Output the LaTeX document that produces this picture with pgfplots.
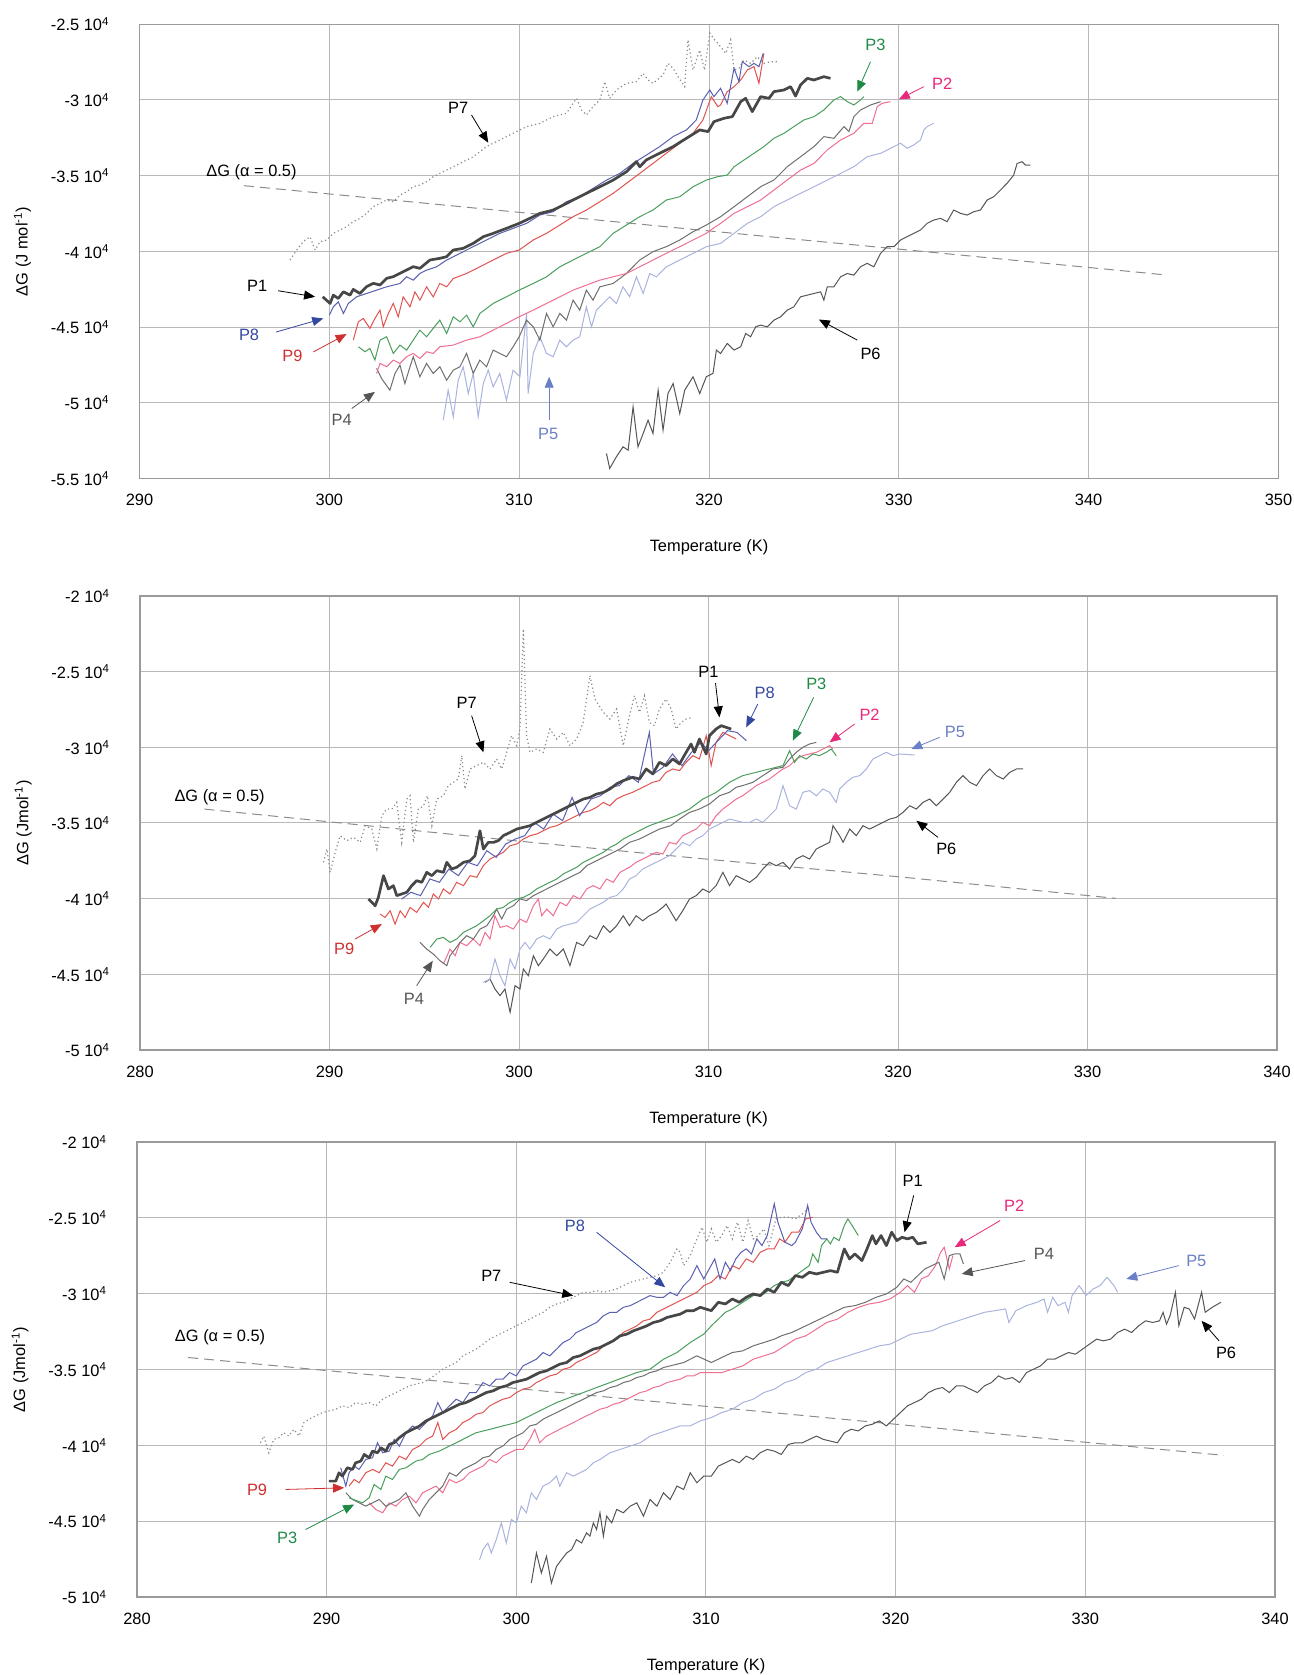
\documentclass[border=0pt]{standalone}
\usepackage{fontspec}
\setmainfont{Liberation Sans}
\usepackage{pgfplots}
\pgfplotsset{compat=1.18}
\usetikzlibrary{arrows.meta}

\definecolor{gridc}{HTML}{B8B8B8}
\definecolor{framec}{HTML}{9A9A9A}
\definecolor{p1c}{HTML}{474747}
\definecolor{p8c}{HTML}{5A5FB0}
\definecolor{p9c}{HTML}{E0534F}
\definecolor{p3c}{HTML}{4A9D5C}
\definecolor{p2c}{HTML}{EE6F8F}
\definecolor{p4c}{HTML}{6E6E6E}
\definecolor{p5c}{HTML}{A9B3DD}
\definecolor{p6c}{HTML}{555555}
\definecolor{p7c}{HTML}{8A8A8A}
\definecolor{dashc}{HTML}{8C8C8C}
\definecolor{lblue}{HTML}{3348A0}
\definecolor{lred}{HTML}{CF2F2F}
\definecolor{lgreen}{HTML}{1F8A48}
\definecolor{lpink}{HTML}{E8287A}
\definecolor{lp5}{HTML}{6A7FC6}
\definecolor{lgray}{HTML}{555555}

\newcommand{\fs}{\fontsize{8.2}{9.8}\selectfont}

\pgfplotsset{
  panel/.style={
    scale only axis, anchor=south west, clip=false,
    grid=major, major grid style={draw=gridc, line width=0.5pt},
    axis line style={draw=framec, line width=0.7pt},
    major tick length=0pt,
    tick label style={font=\fs, text=black},
    label style={font=\fs},
    /pgf/number format/assume math mode=true,
    xticklabel style={yshift=-4.4pt},
    yticklabel style={xshift=-11.5pt},
    scaled y ticks=false,
    xlabel={Temperature (K)},
    xlabel style={at={(axis description cs:0.5,-0.152)}, anchor=center},
    ylabel style={at={(axis description cs:-0.1027,0.5)}, anchor=center},
  },
  s1/.style={draw=p1c, line width=1.35pt, line join=round},
  s8/.style={draw=p8c, line width=0.5pt},
  s9/.style={draw=p9c, line width=0.5pt},
  s3/.style={draw=p3c, line width=0.5pt},
  s2/.style={draw=p2c, line width=0.5pt},
  s4/.style={draw=p4c, line width=0.5pt},
  s5/.style={draw=p5c, line width=0.5pt},
  s6/.style={draw=p6c, line width=0.5pt},
  s7/.style={draw=p7c, line width=0.6pt, dash pattern=on 0.6pt off 1.4pt},
  sd/.style={draw=dashc, line width=0.5pt, dash pattern=on 5pt off 3pt},
}
\tikzset{
  ann/.style={-{Triangle[length=5.5pt,width=4.5pt]}, line width=0.4pt},
  lab/.style={font=\fs, inner sep=1pt},
}

\begin{document}
\begin{tikzpicture}
\path[use as bounding box] (0,0) rectangle (647pt,837.5pt);

% ---------------- panel 1 ----------------
\begin{axis}[panel, at={(69.75pt,598.25pt)}, width=569.5pt, height=227.1pt,
  xmin=290, xmax=350, ymin=-55000, ymax=-25000,
  xtick={290,300,...,350},
  ytick={-55000,-50000,-45000,-40000,-35000,-30000,-25000},
  yticklabels={-5.5 10\textsuperscript{4},-5 10\textsuperscript{4},-4.5 10\textsuperscript{4},-4 10\textsuperscript{4},-3.5 10\textsuperscript{4},-3 10\textsuperscript{4},-2.5 10\textsuperscript{4}},
  ylabel={ΔG (J mol\textsuperscript{-1})}]
\addplot[sd] coordinates {(295.5,-35660) (310,-37420) (320,-38650) (330,-39850) (344.1,-41560)};
\addplot[s7] coordinates {(297.93,-40570) (298.28,-39910) (298.63,-39360) (298.98,-39030) (299.25,-39910) (299.51,-39360) (299.86,-39250) (300.21,-38810) (300.56,-38590) (300.91,-38370) (301.26,-38040) (301.61,-37820) (301.96,-37490) (302.32,-37050) (302.67,-36830) (303.02,-36610) (303.37,-36720) (303.72,-36280) (304.07,-36060) (304.42,-35730) (304.77,-35620) (305.12,-35400) (305.47,-35070) (305.82,-34850) (306.18,-34630) (306.88,-34190) (307.58,-33750) (308.28,-33080) (308.98,-32640) (309.68,-32200) (310.39,-31760) (311.09,-31540) (311.79,-31100) (312.49,-30880) (313.02,-29890) (313.28,-30660) (313.54,-30990) (313.89,-30440) (314.25,-30000) (314.51,-28790) (314.77,-29890) (315.12,-29340) (315.65,-28900) (316.18,-28790) (316.53,-28240) (316.79,-28680) (317.05,-28900) (317.58,-28350) (317.84,-27580) (318.11,-27910) (318.37,-28460) (318.72,-29120) (318.89,-26030) (319.16,-28020) (319.51,-26700) (319.77,-28020) (320.04,-25590) (320.30,-26030) (320.61,-26480) (320.88,-26920) (321.14,-26030) (321.32,-28020) (321.58,-27910) (321.84,-27360) (322.19,-27580) (322.54,-27140) (322.89,-27580) (323.25,-27470) (323.60,-27470)};
\addplot[s6] coordinates {(314.60,-53350) (314.77,-54340) (315.12,-53570) (315.47,-52910) (315.74,-53130) (316.00,-50270) (316.26,-52910) (316.53,-52030) (316.79,-51150) (317.05,-52030) (317.32,-49170) (317.58,-51810) (317.84,-49390) (318.11,-48730) (318.46,-50710) (318.72,-49170) (319.16,-48280) (319.51,-49390) (319.86,-48280) (320.21,-48060) (320.39,-46520) (320.61,-46740) (320.96,-46080) (321.32,-46520) (321.67,-46300) (321.93,-45420) (322.19,-45640) (322.46,-44980) (322.72,-44870) (323.07,-44980) (323.42,-44540) (323.77,-44320) (324.12,-43880) (324.47,-43660) (324.82,-43000) (325.18,-42890) (325.53,-42780) (325.88,-42670) (326.05,-43220) (326.23,-42340) (326.58,-42340) (326.93,-41680) (327.28,-41460) (327.63,-41570) (327.98,-41020) (328.33,-40790) (328.68,-41020) (329.04,-40130) (329.39,-39690) (329.74,-39690) (330.09,-39250) (330.44,-39030) (330.79,-38810) (331.14,-38590) (331.49,-38150) (331.84,-37930) (332.19,-37820) (332.54,-38040) (332.89,-37270) (333.25,-37490) (333.60,-37600) (333.95,-37380) (334.30,-37270) (334.65,-36610) (335.00,-36390) (335.35,-35950) (335.70,-35510) (336.05,-34960) (336.23,-34190) (336.49,-34080) (336.67,-34300) (336.93,-34300)};
\addplot[s5] coordinates {(306.00,-51150) (306.26,-49170) (306.53,-50930) (306.79,-48510) (307.05,-47620) (307.32,-49390) (307.58,-48060) (307.84,-50930) (308.11,-48730) (308.37,-47840) (308.63,-48950) (308.98,-48060) (309.33,-49830) (309.68,-47840) (310.04,-48280) (310.39,-44100) (310.47,-49390) (310.74,-46740) (311.09,-45640) (311.44,-46740) (311.79,-46960) (312.14,-45860) (312.49,-46300) (312.84,-45860) (313.19,-45640) (313.54,-43660) (313.81,-44980) (314.07,-43880) (314.42,-43440) (314.77,-43000) (315.12,-43440) (315.47,-42340) (315.82,-43000) (316.18,-41680) (316.53,-42780) (316.88,-41460) (317.23,-41680) (317.75,-41020) (318.46,-40570) (319.16,-40130) (319.86,-39690) (320.61,-39470) (321.32,-38810) (322.02,-38150) (322.72,-37710) (323.42,-37050) (324.12,-36610) (324.82,-36170) (325.53,-35730) (326.23,-35290) (326.93,-34850) (327.63,-34410) (328.33,-33750) (329.04,-33520) (329.74,-33080) (330.09,-32860) (330.44,-33190) (330.79,-32970) (331.14,-32640) (331.32,-31980) (331.49,-31760) (331.84,-31540)};
\addplot[s4] coordinates {(302.49,-47730) (302.75,-48390) (303.19,-49170) (303.46,-48060) (303.72,-47510) (303.98,-48730) (304.25,-47620) (304.42,-46960) (304.77,-48280) (305.12,-47400) (305.47,-48060) (305.82,-47620) (306.18,-48510) (306.53,-47840) (306.88,-47620) (307.23,-46740) (307.58,-48060) (307.93,-47180) (308.28,-47620) (308.63,-46520) (308.98,-46740) (309.33,-46960) (309.68,-46300) (310.00,-45640) (310.39,-44540) (310.74,-44980) (311.09,-45860) (311.44,-44100) (311.79,-44980) (312.14,-44100) (312.49,-44540) (312.84,-43220) (313.19,-43880) (313.54,-42560) (313.89,-43220) (314.25,-42340) (314.95,-42120) (315.65,-41460) (316.35,-40570) (317.05,-40020) (317.75,-39690) (318.46,-39250) (319.16,-38700) (319.86,-38260) (320.61,-37710) (321.32,-37050) (322.02,-36390) (322.72,-35730) (323.42,-35290) (324.12,-34410) (324.82,-33750) (325.53,-33080) (326.05,-32420) (326.58,-32530) (327.11,-31760) (327.37,-32090) (327.63,-31100) (327.98,-30660) (328.51,-30330) (329.04,-30110)};
\addplot[s2] coordinates {(302.49,-48060) (302.67,-47400) (303.02,-47620) (303.37,-47180) (303.72,-47400) (304.07,-46960) (304.42,-46740) (304.77,-47070) (305.12,-46630) (305.47,-46740) (305.82,-46300) (306.53,-46190) (307.23,-45860) (307.93,-45640) (308.63,-45200) (309.33,-44760) (310.00,-44320) (310.74,-43880) (311.44,-43440) (312.14,-43000) (312.84,-42560) (313.54,-42230) (314.25,-41900) (314.95,-41680) (315.65,-41460) (316.35,-41020) (317.05,-40570) (317.75,-40130) (318.46,-39690) (319.16,-39250) (319.86,-38810) (320.09,-38590) (320.61,-38150) (321.32,-37490) (322.02,-37050) (322.72,-36610) (323.42,-35950) (324.12,-35290) (324.82,-34630) (325.53,-34190) (326.23,-33300) (326.93,-32640) (327.63,-32200) (328.16,-31540) (328.60,-31540) (328.86,-30440) (329.12,-30220) (329.56,-30110)};
\addplot[s3] coordinates {(301.53,-46300) (301.88,-46630) (302.14,-46410) (302.40,-47180) (302.67,-45860) (303.02,-45640) (303.37,-46740) (303.72,-46190) (304.07,-46520) (304.42,-45860) (304.77,-45200) (305.12,-45640) (305.47,-45090) (305.82,-44540) (306.18,-45420) (306.53,-44320) (306.88,-44650) (307.23,-44210) (307.58,-44980) (307.93,-44100) (308.63,-43440) (309.33,-43000) (310.00,-42560) (310.74,-42120) (311.44,-41680) (312.14,-41020) (312.84,-40570) (313.54,-40130) (314.25,-39690) (314.95,-38810) (315.65,-38260) (316.35,-37710) (317.05,-37270) (317.75,-36610) (318.46,-36390) (319.16,-35730) (319.86,-35290) (320.44,-35070) (320.96,-34960) (321.32,-34410) (321.84,-33970) (322.37,-33520) (322.89,-33080) (323.42,-32530) (323.95,-32200) (324.47,-31760) (325.00,-31320) (325.53,-31100) (326.05,-30660) (326.58,-30000) (326.93,-29780) (327.28,-30110) (327.63,-30330) (327.98,-30000) (328.16,-29780)};
\addplot[s9] coordinates {(301.26,-45860) (301.53,-44650) (301.79,-44430) (302.14,-45090) (302.40,-44430) (302.67,-43880) (302.84,-44980) (303.11,-44100) (303.37,-43440) (303.63,-44320) (303.89,-43000) (304.25,-43660) (304.51,-42670) (304.77,-43220) (305.12,-42340) (305.47,-43000) (305.82,-42120) (306.18,-42340) (306.53,-41790) (307.23,-41460) (307.93,-41020) (308.63,-40570) (309.33,-40130) (310.00,-39910) (310.74,-39250) (311.44,-38810) (312.14,-38260) (312.84,-37710) (313.54,-37270) (314.25,-36720) (314.95,-36170) (315.65,-35510) (316.35,-34850) (317.05,-34190) (317.75,-33520) (318.46,-32860) (319.16,-32200) (319.68,-31320) (320.12,-29780) (320.47,-30440) (320.61,-30330) (320.96,-29450) (321.32,-29120) (321.67,-28680) (322.02,-28020) (322.37,-27800) (322.63,-28900) (322.89,-26920)};
\addplot[s8] coordinates {(300.00,-44210) (300.21,-43660) (300.47,-43330) (300.74,-44100) (301.00,-43440) (301.44,-43000) (301.96,-42780) (302.49,-42560) (303.02,-42340) (303.72,-42120) (304.07,-41680) (304.42,-41900) (304.77,-41460) (305.12,-41240) (305.65,-41020) (306.18,-40570) (306.88,-40130) (307.58,-39690) (308.28,-39250) (308.98,-38810) (309.68,-38480) (310.39,-38150) (311.09,-37600) (311.79,-37380) (312.49,-36720) (313.19,-36390) (313.89,-35840) (314.60,-35290) (315.30,-34850) (316.00,-34190) (316.70,-33640) (317.40,-33080) (318.11,-32420) (318.81,-31980) (319.33,-31320) (319.68,-30000) (320.04,-29340) (320.26,-29780) (320.61,-29230) (320.96,-30220) (321.32,-27910) (321.58,-28790) (321.75,-27470) (322.11,-27800) (322.37,-27580) (322.63,-27800) (322.86,-26920)};
\addplot[s1] coordinates {(299.65,-43000) (300.04,-43440) (300.21,-42890) (300.47,-43110) (300.74,-42670) (301.09,-42890) (301.26,-42510) (301.61,-42780) (301.96,-42330) (302.32,-42110) (302.67,-42220) (303.02,-41780) (303.37,-41670) (303.72,-41450) (304.07,-41230) (304.42,-41010) (304.77,-41120) (305.30,-40570) (305.82,-40460) (306.18,-40350) (306.53,-39910) (307.05,-39800) (307.58,-39470) (308.11,-39030) (308.63,-38810) (309.33,-38480) (310.00,-38150) (310.56,-37820) (311.09,-37490) (311.79,-37270) (312.32,-36940) (312.84,-36610) (313.54,-36170) (314.25,-35730) (314.95,-35290) (315.65,-34740) (316.18,-34070) (316.35,-34410) (316.70,-33960) (317.40,-33520) (318.11,-33080) (318.81,-32530) (319.51,-31980) (319.95,-32090) (320.26,-31430) (320.79,-31210) (321.23,-31100) (321.67,-30110) (321.93,-29890) (322.28,-30770) (322.72,-29780) (323.16,-29890) (323.42,-29450) (323.95,-29340) (324.30,-29120) (324.56,-29740) (324.82,-29010) (325.18,-28570) (325.53,-28680) (326.05,-28460) (326.40,-28570)};
\node[lab] at (axis cs:295.9,-34790) {ΔG (α = 0.5)};
\draw[ann, black] (axis cs:307.49,-30990) -- (axis cs:308.37,-32820);
\node[lab] at (axis cs:306.79,-30550) {P7};
\draw[ann, black] (axis cs:297.3,-42600) -- (axis cs:299.25,-43000);
\node[lab] at (axis cs:296.2,-42270) {P1};
\draw[ann, lblue] (axis cs:297.19,-45330) -- (axis cs:299.68,-44430);
\node[lab, text=lblue] at (axis cs:295.77,-45540) {P8};
\draw[ann, lred] (axis cs:299.16,-46640) -- (axis cs:300.91,-45460);
\node[lab, text=lred] at (axis cs:298.06,-46870) {P9};
\draw[ann, lgray] (axis cs:301.18,-50380) -- (axis cs:302.40,-49280);
\node[lab, text=lgray] at (axis cs:300.65,-51150) {P4};
\draw[ann, lp5] (axis cs:311.58,-51150) -- (axis cs:311.58,-48280);
\node[lab, text=lp5] at (axis cs:311.53,-52030) {P5};
\draw[ann, lgreen] (axis cs:328.51,-27470) -- (axis cs:327.81,-29450);
\node[lab, text=lgreen] at (axis cs:328.77,-26370) {P3};
\draw[ann, lpink] (axis cs:331.32,-29120) -- (axis cs:330.0,-29960);
\node[lab, text=lpink] at (axis cs:332.28,-28900) {P2};
\draw[ann, black] (axis cs:327.81,-45860) -- (axis cs:325.79,-44500);
\node[lab] at (axis cs:328.51,-46740) {P6};
\end{axis}

% ---------------- panel 2 ----------------
\begin{axis}[panel, at={(70pt,312.5pt)}, width=568.5pt, height=227pt,
  xmin=280, xmax=340, ymin=-50000, ymax=-20000,
  xtick={280,290,...,340},
  ytick={-50000,-45000,-40000,-35000,-30000,-25000,-20000},
  yticklabels={-5 10\textsuperscript{4},-4.5 10\textsuperscript{4},-4 10\textsuperscript{4},-3.5 10\textsuperscript{4},-3 10\textsuperscript{4},-2.5 10\textsuperscript{4},-2 10\textsuperscript{4}},
  ylabel={ΔG (Jmol\textsuperscript{-1})}]
\addplot[sd] coordinates {(283.4,-34080) (300,-36200) (310,-37400) (320,-38550) (331.5,-39980)};
\addplot[s7] coordinates {(289.68,-37600) (289.86,-36720) (290.04,-38260) (290.30,-36940) (290.56,-35840) (290.91,-36170) (291.27,-35950) (291.62,-36280) (291.88,-35180) (292.23,-35400) (292.50,-36720) (292.76,-34520) (293.02,-34080) (293.29,-34080) (293.55,-33640) (293.81,-36280) (294.08,-33420) (294.25,-33200) (294.43,-36280) (294.69,-34080) (294.96,-33860) (295.17,-33200) (295.40,-35180) (295.66,-33420) (296.01,-33200) (296.27,-32530) (296.54,-32310) (296.80,-32090) (296.98,-30550) (297.15,-32750) (297.42,-31430) (297.77,-31210) (298.12,-30990) (298.47,-31430) (298.82,-30770) (299.09,-31430) (299.35,-30330) (299.61,-29230) (299.88,-29890) (300.05,-28790) (300.23,-22180) (300.40,-29230) (300.58,-30330) (300.93,-30110) (301.28,-30330) (301.63,-28790) (301.99,-29450) (302.34,-29010) (302.69,-29890) (303.04,-29450) (303.39,-28350) (303.74,-25260) (304.01,-26810) (304.45,-27690) (304.80,-28130) (305.15,-27470) (305.50,-29890) (305.83,-27910) (306.09,-26590) (306.36,-27690) (306.62,-26590) (306.88,-28350) (307.15,-28570) (307.41,-27470) (307.76,-26810) (308.03,-27470) (308.29,-28790) (308.56,-28350) (308.82,-28130) (309.17,-28020)};
\addplot[s6] coordinates {(298.21,-45530) (298.47,-45310) (298.73,-45970) (299.00,-46410) (299.26,-45970) (299.53,-47510) (299.79,-45750) (300.05,-45970) (300.23,-44650) (300.49,-45090) (300.76,-43770) (301.02,-44430) (301.28,-43990) (301.63,-43330) (301.99,-43770) (302.34,-43330) (302.69,-44430) (303.04,-42890) (303.39,-43110) (303.74,-42450) (304.09,-42670) (304.45,-41790) (304.80,-42230) (305.15,-41790) (305.50,-41130) (305.83,-41790) (306.18,-41130) (306.53,-41460) (306.88,-41130) (307.24,-40910) (307.59,-40570) (307.76,-40350) (308.03,-40910) (308.29,-41460) (308.64,-40800) (309.00,-40020) (309.35,-39800) (309.70,-39360) (310.05,-39580) (310.40,-39140) (310.76,-38260) (311.11,-39140) (311.46,-38480) (311.81,-38700) (312.17,-38920) (312.52,-38590) (312.87,-38040) (313.22,-37600) (313.57,-37820) (313.93,-37600) (314.28,-38040) (314.63,-37380) (314.98,-37160) (315.33,-37380) (315.69,-36720) (316.04,-36500) (316.39,-36280) (316.57,-35180) (316.92,-35840) (317.10,-36280) (317.45,-35400) (317.80,-35840) (318.15,-35180) (318.50,-35400) (318.86,-35180) (319.21,-34960) (319.56,-34740) (319.91,-34630) (320.26,-34300) (320.62,-33860) (320.97,-34080) (321.32,-33640) (321.67,-33420) (322.02,-33860) (322.38,-33420) (322.73,-32970) (323.08,-32310) (323.43,-31870) (323.79,-32310) (324.14,-32530) (324.49,-31870) (324.84,-31430) (325.19,-31870) (325.55,-32090) (325.90,-31650) (326.25,-31430) (326.60,-31430)};
\addplot[s5] coordinates {(298.12,-45530) (298.47,-45310) (298.73,-43990) (299.00,-45090) (299.26,-45750) (299.53,-43990) (299.79,-44650) (300.05,-43330) (300.32,-42890) (300.58,-43330) (300.93,-42670) (301.28,-42450) (301.63,-42670) (301.99,-42010) (302.34,-41790) (302.69,-41680) (303.04,-41570) (303.39,-41130) (303.74,-40690) (304.09,-40470) (304.45,-40240) (304.80,-39910) (305.15,-39800) (305.50,-39360) (305.83,-38700) (306.18,-38480) (306.53,-38040) (306.88,-37820) (307.24,-37600) (307.59,-37380) (307.94,-37160) (308.29,-36720) (308.64,-36280) (309.00,-36500) (309.35,-36060) (309.70,-35840) (310.05,-35400) (310.40,-35180) (310.76,-34960) (311.11,-34740) (311.46,-34850) (311.81,-34960) (312.17,-34960) (312.52,-34740) (312.87,-34960) (313.22,-34520) (313.57,-34080) (313.93,-32530) (314.28,-33860) (314.63,-34080) (314.98,-32970) (315.33,-32860) (315.69,-33200) (316.04,-32750) (316.39,-32970) (316.74,-33640) (316.92,-32750) (317.27,-32310) (317.62,-31980) (317.98,-31870) (318.33,-31430) (318.68,-30770) (319.03,-30550) (319.38,-30330) (319.74,-30550) (320.09,-30440) (320.88,-30510)};
\addplot[s2] coordinates {(296.01,-44320) (296.36,-43330) (296.63,-43770) (296.89,-42890) (297.24,-43110) (297.59,-42670) (297.94,-43110) (298.21,-42230) (298.47,-42670) (298.73,-41130) (299.00,-41900) (299.35,-41790) (299.70,-42010) (300.05,-41350) (300.40,-41570) (300.76,-40470) (301.02,-40020) (301.20,-41130) (301.46,-40690) (301.81,-41130) (302.16,-40240) (302.51,-40470) (302.86,-39800) (303.22,-40020) (303.57,-39360) (303.92,-39140) (304.27,-39360) (304.62,-38700) (304.97,-38920) (305.33,-38260) (305.83,-37930) (306.18,-37600) (306.53,-37380) (306.88,-37160) (307.24,-36940) (307.59,-37050) (307.94,-36280) (308.29,-36390) (308.64,-35840) (309.00,-35620) (309.35,-35400) (309.70,-34960) (310.05,-35180) (310.40,-34520) (310.76,-34080) (311.11,-33750) (311.46,-33420) (311.81,-33200) (312.17,-32860) (312.52,-32530) (312.87,-32310) (313.22,-32090) (313.57,-31760) (313.93,-31430) (314.28,-31210) (314.63,-30770) (314.98,-30550) (315.33,-30440) (315.69,-30330) (316.04,-30110) (316.39,-29890) (316.57,-30110)};
\addplot[s4] coordinates {(294.78,-42890) (295.13,-43330) (295.48,-43660) (295.83,-44100) (296.19,-44430) (296.36,-43770) (296.63,-43330) (296.89,-42890) (297.24,-42450) (297.59,-42670) (297.94,-42010) (298.30,-41790) (298.65,-41130) (298.82,-40690) (299.09,-41350) (299.35,-40690) (299.70,-40470) (300.05,-40020) (300.40,-40130) (300.76,-39800) (301.11,-39580) (301.46,-39360) (301.81,-39140) (302.16,-38920) (302.51,-38700) (302.86,-38480) (303.22,-38260) (303.57,-37820) (303.92,-37600) (304.27,-37380) (304.62,-37160) (304.97,-36940) (305.33,-36720) (305.83,-36280) (306.36,-36060) (306.88,-35730) (307.41,-35400) (308.00,-35180) (308.47,-34740) (309.00,-34300) (309.52,-34080) (310.05,-33750) (310.58,-33200) (311.11,-32970) (311.46,-32640) (311.81,-32530) (312.34,-32310) (312.87,-31870) (313.40,-31430) (313.93,-31320) (314.28,-30770) (314.63,-30330) (314.98,-30000) (315.33,-29780) (315.69,-29670)};
\addplot[s3] coordinates {(295.31,-43220) (295.66,-42670) (296.01,-42560) (296.36,-42890) (296.71,-42670) (297.07,-42230) (297.42,-42010) (297.77,-41790) (298.12,-41460) (298.47,-41130) (298.82,-40690) (299.17,-40580) (299.53,-40240) (299.88,-40020) (300.23,-39910) (300.58,-39690) (300.93,-39360) (301.28,-39140) (301.63,-38920) (301.99,-38700) (302.34,-38370) (302.69,-38150) (303.04,-37930) (303.39,-37600) (303.74,-37380) (304.09,-37160) (304.45,-36940) (304.80,-36610) (305.15,-36390) (305.50,-36060) (306.18,-35620) (306.88,-35180) (307.59,-34850) (308.29,-34520) (309.00,-34080) (309.70,-33420) (310.40,-32980) (311.11,-32310) (311.81,-31870) (312.52,-31650) (313.22,-31430) (313.93,-31210) (314.28,-30220) (314.54,-30990) (314.81,-30550) (315.16,-30770) (315.51,-30440) (315.86,-30550) (316.21,-30330) (316.48,-30110) (316.74,-30550)};
\addplot[s9] coordinates {(292.67,-41020) (292.93,-41240) (293.20,-40800) (293.46,-41680) (293.73,-40800) (293.99,-41240) (294.25,-40580) (294.60,-40910) (294.96,-40240) (295.22,-40570) (295.48,-39690) (295.75,-40020) (296.01,-39360) (296.36,-39690) (296.71,-38920) (297.07,-39140) (297.42,-38480) (297.77,-38590) (298.12,-37820) (298.47,-37380) (298.82,-37160) (299.17,-36940) (299.53,-36500) (299.88,-36390) (300.23,-36060) (300.58,-35840) (300.93,-35730) (301.28,-35510) (301.63,-35290) (301.99,-35180) (302.34,-34960) (302.69,-34740) (303.04,-34520) (303.39,-34300) (303.74,-34190) (304.09,-33970) (304.45,-33640) (304.80,-33860) (305.15,-33420) (305.50,-33200) (306.00,-32970) (306.36,-32750) (306.71,-32530) (307.06,-32310) (307.41,-32200) (307.76,-31650) (308.12,-31430) (308.47,-31540) (308.82,-30990) (309.17,-30550) (309.52,-30770) (309.88,-29230) (310.14,-31210) (310.40,-29670) (310.76,-29010) (311.11,-29230) (311.46,-29450)};
\addplot[s8] coordinates {(293.80,-40030) (294.30,-39580) (294.80,-39800) (295.30,-38700) (295.80,-38920) (296.30,-38040) (296.80,-38480) (297.30,-37600) (297.80,-37820) (298.30,-36830) (298.80,-37270) (299.30,-36390) (299.80,-36060) (300.30,-35840) (300.80,-34960) (301.30,-35400) (301.80,-34410) (302.30,-34850) (302.80,-33310) (303.20,-34520) (303.80,-33420) (304.30,-33200) (304.80,-32640) (305.30,-32530) (305.80,-31870) (306.30,-32310) (306.88,-29010) (307.10,-31760) (307.60,-31320) (308.10,-30440) (308.60,-31210) (309.10,-30330) (309.60,-29670) (310.00,-30220) (310.50,-29560) (311.00,-28900) (311.50,-29010) (312.00,-29560)};
\addplot[s1] coordinates {(292.06,-40020) (292.41,-40470) (292.58,-39910) (292.85,-38480) (293.11,-39360) (293.37,-39140) (293.55,-39800) (293.81,-39690) (294.08,-39580) (294.34,-39140) (294.60,-38810) (294.87,-38920) (295.13,-38260) (295.40,-38480) (295.66,-38150) (296.01,-38260) (296.19,-37600) (296.45,-38040) (296.71,-37930) (297.07,-37600) (297.42,-37490) (297.68,-37160) (297.94,-35510) (298.12,-36720) (298.38,-36280) (298.65,-36280) (298.91,-36170) (299.17,-35840) (299.53,-35620) (299.88,-35400) (300.23,-35290) (300.58,-35180) (300.93,-34960) (301.28,-34740) (301.63,-34520) (301.99,-34300) (302.34,-34080) (302.69,-33860) (303.04,-33640) (303.39,-33420) (303.74,-33310) (304.09,-33090) (304.45,-32980) (304.80,-32750) (305.15,-32420) (305.50,-32200) (306.00,-31980) (306.36,-32090) (306.71,-31430) (307.06,-31760) (307.41,-30990) (307.76,-31210) (308.12,-30770) (308.47,-31100) (308.82,-30330) (309.08,-29780) (309.26,-30330) (309.52,-29450) (309.88,-30440) (310.05,-29230) (310.40,-28790) (310.67,-28570) (310.93,-28680) (311.20,-28790)};
\node[lab] at (axis cs:284.2,-33280) {ΔG (α = 0.5)};
\draw[ann, black] (axis cs:297.5,-27910) -- (axis cs:298.12,-30330);
\node[lab] at (axis cs:297.24,-27030) {P7};
\draw[ann, lred] (axis cs:291.35,-42670) -- (axis cs:292.76,-41680);
\node[lab, text=lred] at (axis cs:290.77,-43330) {P9};
\draw[ann, lgray] (axis cs:294.6,-45750) -- (axis cs:295.45,-44100);
\node[lab, text=lgray] at (axis cs:294.46,-46630) {P4};
\draw[ann, black] (axis cs:310.37,-25750) -- (axis cs:310.58,-28020);
\node[lab] at (axis cs:310.0,-25000) {P1};
\draw[ann, lblue] (axis cs:312.6,-27140) -- (axis cs:311.99,-28680);
\node[lab, text=lblue] at (axis cs:312.96,-26370) {P8};
\draw[ann, lgreen] (axis cs:315.55,-26700) -- (axis cs:314.45,-29560);
\node[lab, text=lgreen] at (axis cs:315.69,-25820) {P3};
\draw[ann, lpink] (axis cs:317.71,-28460) -- (axis cs:316.39,-29670);
\node[lab, text=lpink] at (axis cs:318.5,-27860) {P2};
\draw[ann, lp5] (axis cs:322.2,-29340) -- (axis cs:320.7,-30110);
\node[lab, text=lp5] at (axis cs:323.0,-28970) {P5};
\draw[ann, black] (axis cs:322.11,-35950) -- (axis cs:320.97,-34850);
\node[lab] at (axis cs:322.55,-36720) {P6};
\end{axis}

% ---------------- panel 3 ----------------
\begin{axis}[panel, at={(68.5pt,39pt)}, width=569pt, height=227.5pt,
  xmin=280, xmax=340, ymin=-50000, ymax=-20000,
  xtick={280,290,...,340},
  ytick={-50000,-45000,-40000,-35000,-30000,-25000,-20000},
  yticklabels={-5 10\textsuperscript{4},-4.5 10\textsuperscript{4},-4 10\textsuperscript{4},-3.5 10\textsuperscript{4},-3 10\textsuperscript{4},-2.5 10\textsuperscript{4},-2 10\textsuperscript{4}},
  ylabel={ΔG (Jmol\textsuperscript{-1})}]
\addplot[sd] coordinates {(282.7,-34210) (300,-36250) (320,-38610) (337.3,-40660)};
\addplot[s7] coordinates {(286.51,-39830) (286.68,-39390) (286.95,-40490) (287.21,-39610) (287.48,-39500) (287.74,-39170) (288.01,-39390) (288.27,-38950) (288.54,-39390) (288.80,-38500) (289.07,-38280) (289.42,-38060) (289.77,-37840) (290.12,-37730) (290.48,-37620) (290.83,-37400) (291.18,-37510) (291.53,-37180) (291.89,-37290) (292.24,-37180) (292.59,-37400) (292.95,-36960) (293.30,-36740) (293.65,-36520) (294.00,-36300) (294.36,-36080) (294.71,-35970) (295.06,-35860) (295.41,-35640) (295.77,-35310) (296.12,-34980) (296.47,-34760) (296.83,-34540) (297.18,-34100) (297.53,-33880) (297.88,-33660) (298.24,-33330) (298.59,-33000) (298.94,-32780) (299.29,-32560) (299.65,-32340) (300.00,-32120) (300.35,-31900) (300.71,-31680) (301.06,-31450) (301.41,-31230) (301.76,-30900) (302.12,-30680) (302.47,-30570) (302.82,-30350) (303.17,-30130) (303.53,-29910) (303.88,-29910) (304.23,-29800) (304.59,-29910) (304.94,-29800) (305.29,-29690) (305.64,-29470) (306.00,-29250) (306.35,-29140) (306.70,-29030) (307.05,-28920) (307.41,-28810) (307.76,-28590) (308.11,-27930) (308.47,-27050) (308.64,-27270) (308.82,-28150) (309.17,-27490) (309.52,-26390) (309.79,-25620) (310.05,-26610) (310.28,-25730) (310.55,-26610) (310.83,-26170) (311.11,-25510) (311.39,-26390) (311.66,-25290) (311.94,-26610) (312.22,-25180) (312.49,-26390) (312.77,-26170) (313.05,-25730) (313.32,-26830) (313.69,-25070) (313.97,-24960) (314.34,-24960) (314.71,-25070) (315.08,-24740) (315.45,-24300)};
\addplot[s6] coordinates {(300.79,-49080) (301.06,-47100) (301.32,-48420) (301.59,-47320) (301.85,-49080) (302.12,-47980) (302.38,-47540) (302.65,-47100) (302.91,-46880) (303.17,-46220) (303.44,-46440) (303.70,-45770) (303.88,-45990) (304.06,-45110) (304.23,-45550) (304.41,-44450) (304.59,-45990) (304.76,-44670) (305.03,-45110) (305.29,-44230) (305.64,-44450) (306.00,-44010) (306.35,-43790) (306.70,-44670) (307.05,-43570) (307.41,-44010) (307.76,-43130) (308.11,-43570) (308.47,-42690) (308.82,-42910) (309.17,-41810) (309.52,-42470) (309.88,-42030) (310.28,-42030) (310.65,-41370) (311.02,-41150) (311.39,-40930) (311.75,-41150) (312.12,-40710) (312.49,-40930) (312.86,-40490) (313.23,-40270) (313.60,-40380) (313.97,-40600) (314.34,-39940) (314.71,-39830) (315.08,-39830) (315.45,-39610) (315.82,-39390) (316.19,-39610) (316.56,-39720) (316.93,-39830) (317.29,-39170) (317.66,-38940) (318.03,-39050) (318.40,-38720) (318.77,-38610) (319.14,-38390) (319.51,-38720) (319.88,-38280) (320.25,-37840) (320.62,-37400) (320.99,-37180) (321.36,-36960) (321.73,-36520) (322.10,-36300) (322.47,-36190) (322.83,-36520) (323.20,-36080) (323.57,-36080) (323.94,-36300) (324.31,-36520) (324.68,-36080) (325.05,-35860) (325.42,-35420) (325.79,-35640) (326.16,-35530) (326.53,-35860) (326.90,-35200) (327.27,-34980) (327.64,-34760) (328.01,-34320) (328.38,-34320) (328.74,-34100) (329.11,-33880) (329.48,-33990) (329.85,-33660) (330.22,-33330) (330.59,-33000) (330.96,-33110) (331.33,-33000) (331.70,-32560) (332.07,-32340) (332.44,-32560) (332.81,-32120) (333.18,-31790) (333.55,-31900) (333.91,-31790) (334.10,-31230) (334.28,-32010) (334.47,-31450) (334.75,-29910) (334.93,-32120) (335.21,-30900) (335.48,-31010) (335.76,-31670) (336.13,-29910) (336.32,-31230) (336.69,-30900) (337.15,-30570)};
\addplot[s5] coordinates {(298.06,-47540) (298.24,-46880) (298.50,-46440) (298.68,-47100) (298.94,-46220) (299.21,-45110) (299.47,-46440) (299.74,-44890) (300.00,-45110) (300.26,-44010) (300.53,-44450) (300.79,-43130) (301.06,-43570) (301.41,-42690) (301.76,-42470) (302.12,-42030) (302.29,-42690) (302.65,-41810) (303.00,-42030) (303.35,-41810) (303.70,-41590) (304.06,-41150) (304.41,-40930) (304.94,-40490) (305.47,-40270) (306.00,-40050) (306.53,-39830) (307.05,-39390) (307.58,-39170) (308.11,-38940) (308.64,-38720) (309.17,-38720) (309.70,-38390) (310.28,-38170) (310.83,-37840) (311.39,-37620) (311.94,-37180) (312.49,-36960) (313.05,-36520) (313.60,-36300) (314.16,-35860) (314.71,-35640) (315.26,-35200) (315.82,-34980) (316.37,-34540) (316.93,-34320) (317.48,-34100) (318.03,-33880) (318.59,-33660) (319.14,-33440) (319.70,-33330) (320.25,-33000) (320.80,-32670) (321.36,-32560) (321.91,-32450) (322.47,-32120) (323.02,-31900) (323.57,-31670) (324.12,-31450) (324.68,-31230) (325.24,-31120) (325.79,-31010) (325.97,-31900) (326.34,-31120) (326.90,-30790) (327.45,-30570) (327.82,-30350) (328.01,-31230) (328.28,-30240) (328.56,-30790) (328.93,-30570) (329.11,-31230) (329.30,-30130) (329.67,-29470) (330.04,-30130) (330.41,-29690) (330.78,-29470) (331.14,-28920) (331.51,-29470) (331.70,-29910)};
\addplot[s2] coordinates {(292.24,-43790) (292.59,-44230) (292.95,-44450) (293.30,-43790) (293.65,-44010) (294.00,-43570) (294.36,-43350) (294.71,-43790) (295.06,-43130) (295.41,-42910) (295.77,-42690) (296.12,-43130) (296.47,-42250) (296.83,-42470) (297.18,-42250) (297.53,-41810) (297.88,-41590) (298.24,-41370) (298.59,-40930) (298.94,-41150) (299.29,-40710) (299.65,-40490) (300.00,-40270) (300.35,-40270) (300.71,-39610) (300.97,-38940) (301.23,-39830) (301.59,-39390) (301.94,-39170) (302.29,-38940) (302.65,-38720) (303.00,-38500) (303.35,-38280) (303.70,-38060) (304.06,-37840) (304.41,-37620) (304.76,-37510) (305.11,-37290) (305.47,-37180) (305.82,-36960) (306.17,-36740) (306.53,-36520) (306.88,-36410) (307.23,-36190) (307.58,-36080) (307.94,-35860) (308.29,-35750) (308.64,-35640) (308.99,-35420) (309.35,-35420) (309.70,-35200) (310.83,-35200) (311.39,-34980) (311.94,-34760) (312.49,-34320) (313.05,-34100) (313.60,-33880) (314.16,-33440) (314.71,-33000) (315.26,-32780) (315.82,-32340) (316.37,-31900) (316.93,-31680) (317.48,-31230) (318.03,-30900) (318.59,-30680) (319.14,-30570) (319.70,-30350) (320.25,-29910) (320.62,-29470) (320.99,-29910) (321.36,-29030) (321.73,-28810) (322.10,-28150) (322.37,-27270) (322.56,-26940) (322.83,-28370) (323.02,-27490)};
\addplot[s4] coordinates {(291.01,-43130) (291.36,-43570) (291.71,-43790) (292.06,-44010) (292.42,-43790) (292.77,-43570) (293.12,-44010) (293.47,-43790) (293.83,-43570) (294.18,-43130) (294.53,-44010) (294.89,-44670) (295.06,-44230) (295.41,-43570) (295.77,-43130) (296.12,-42690) (296.47,-41810) (296.83,-42030) (297.18,-41590) (297.53,-41370) (297.88,-41150) (298.24,-40820) (298.59,-40710) (298.94,-40270) (299.29,-40050) (299.65,-39610) (300.00,-39390) (300.35,-39170) (300.71,-38720) (301.06,-38610) (301.41,-38280) (301.76,-38060) (302.12,-37840) (302.47,-37620) (302.82,-37400) (303.17,-37180) (303.53,-36960) (303.88,-36740) (304.23,-36520) (304.59,-36410) (304.94,-36190) (305.29,-36080) (305.64,-35860) (306.00,-35750) (306.35,-35530) (306.70,-35420) (307.05,-35200) (307.41,-35090) (307.76,-34870) (308.11,-34760) (308.47,-34650) (308.82,-34540) (309.17,-34320) (309.52,-34100) (310.28,-34540) (310.83,-34210) (311.39,-33880) (311.94,-33770) (312.49,-33440) (313.05,-33220) (313.60,-33000) (313.97,-32780) (314.52,-32560) (315.08,-32230) (315.63,-31900) (316.19,-31570) (316.74,-31230) (317.29,-30900) (317.85,-30790) (318.40,-30570) (318.96,-30240) (319.51,-30020) (320.06,-29580) (320.43,-29030) (320.80,-29250) (321.17,-28810) (321.54,-28370) (321.91,-28150) (322.28,-27930) (322.56,-29030) (322.83,-27490) (323.11,-27380) (323.39,-27380) (323.57,-28040)};
\addplot[s3] coordinates {(291.18,-43460) (291.89,-43790) (292.24,-43460) (292.50,-42580) (292.86,-42910) (293.12,-42030) (293.47,-42250) (293.83,-41590) (294.18,-41480) (294.71,-41040) (295.06,-40930) (295.41,-40600) (295.94,-40380) (296.47,-40050) (296.83,-39830) (297.35,-39500) (297.88,-39170) (298.59,-38950) (299.29,-38720) (300.00,-38500) (300.71,-38060) (301.41,-37620) (302.12,-37180) (302.82,-36850) (303.53,-36520) (304.23,-36190) (304.94,-35860) (305.64,-35530) (306.35,-35200) (307.05,-34980) (307.76,-34320) (308.47,-33880) (309.17,-33220) (309.88,-32670) (310.28,-32120) (310.65,-31680) (311.02,-31230) (311.39,-31010) (311.94,-30570) (312.49,-30130) (313.05,-30020) (313.60,-29470) (313.97,-29250) (314.34,-29140) (314.71,-28810) (315.08,-28480) (315.45,-28150) (315.63,-27380) (315.91,-27930) (316.09,-26830) (316.37,-26390) (316.56,-26720) (316.74,-26280) (317.02,-26500) (317.29,-25510) (317.48,-25070) (317.76,-25620) (318.03,-26170)};
\addplot[s9] coordinates {(291.18,-42690) (291.45,-42250) (291.71,-42470) (292.06,-41810) (292.42,-41590) (292.77,-41810) (293.12,-41150) (293.47,-41370) (293.83,-40710) (294.18,-40930) (294.53,-40270) (294.89,-40050) (295.24,-39610) (295.59,-39390) (295.86,-38500) (296.12,-39610) (296.47,-39170) (296.83,-38950) (297.18,-38500) (297.53,-38280) (297.88,-37950) (298.24,-37840) (298.59,-37400) (298.94,-37180) (299.29,-36960) (299.65,-36850) (300.00,-36520) (300.35,-36300) (300.71,-36190) (301.06,-35860) (301.41,-35640) (301.76,-35420) (302.12,-35310) (302.47,-34980) (302.82,-34870) (303.17,-34540) (303.53,-34320) (303.88,-34100) (304.23,-33880) (304.59,-33440) (304.94,-33220) (305.29,-33000) (305.64,-32560) (306.00,-32340) (306.35,-32120) (306.70,-31790) (307.05,-31680) (307.41,-31230) (307.76,-31010) (308.11,-30790) (308.47,-30570) (308.82,-30350) (309.17,-30130) (309.52,-29910) (309.88,-29470) (310.28,-29250) (310.65,-28810) (311.02,-29030) (311.39,-28150) (311.75,-28370) (312.12,-27710) (312.49,-27930) (312.86,-27270) (313.23,-27050) (313.60,-27050) (313.88,-26390) (314.16,-26610) (314.52,-25950) (314.89,-25950) (315.26,-25070) (315.63,-24960)};
\addplot[s8] coordinates {(290.74,-41480) (291.01,-42690) (291.18,-41810) (291.45,-41370) (291.71,-41590) (292.06,-40930) (292.42,-40820) (292.68,-39830) (292.95,-40490) (293.30,-40380) (293.56,-39610) (293.83,-40050) (294.18,-39170) (294.53,-38730) (294.89,-38950) (295.24,-38500) (295.59,-38060) (295.86,-37180) (296.12,-37840) (296.47,-37400) (296.83,-36960) (297.18,-37180) (297.53,-36520) (297.88,-36520) (298.24,-35860) (298.59,-36080) (298.94,-35640) (299.29,-35640) (299.65,-35200) (300.00,-35420) (300.35,-34760) (300.71,-34540) (301.06,-34320) (301.41,-33880) (301.76,-34100) (302.12,-33660) (302.47,-33220) (302.82,-33000) (303.17,-32560) (303.53,-32340) (303.88,-32120) (304.23,-31900) (304.59,-31460) (304.94,-31230) (305.29,-31230) (305.64,-30900) (306.00,-30790) (306.35,-30570) (306.70,-30350) (307.05,-30130) (307.41,-30240) (307.76,-30240) (308.11,-29910) (308.47,-30130) (308.82,-29470) (309.17,-29030) (309.52,-28150) (309.88,-29030) (310.46,-27710) (310.74,-29030) (311.02,-27930) (311.29,-28480) (311.57,-27710) (311.85,-27270) (312.12,-27050) (312.40,-27380) (312.68,-26390) (312.95,-26830) (313.23,-26170) (313.60,-24070) (313.79,-25290) (314.16,-26610) (314.52,-26830) (314.71,-26610) (315.08,-25730) (315.36,-24180) (315.54,-25290) (315.82,-25950) (316.09,-26390) (316.37,-26390)};
\addplot[s1] coordinates {(290.12,-42360) (290.48,-42360) (290.65,-41810) (290.83,-42030) (291.09,-41480) (291.36,-41590) (291.53,-41150) (291.80,-41040) (291.98,-40600) (292.24,-40820) (292.42,-40380) (292.68,-40490) (292.86,-40160) (293.12,-40380) (293.30,-39940) (293.56,-39830) (293.83,-39500) (294.18,-39170) (294.53,-38950) (294.89,-38730) (295.24,-38390) (295.59,-38170) (295.94,-37950) (296.30,-37730) (296.65,-37510) (297.00,-37290) (297.35,-37180) (297.71,-36960) (298.06,-36740) (298.41,-36520) (298.77,-36410) (299.12,-36190) (299.47,-36080) (299.82,-35860) (300.18,-35750) (300.53,-35640) (300.88,-35420) (301.23,-35200) (301.59,-35090) (301.94,-34870) (302.29,-34650) (302.65,-34540) (303.00,-34210) (303.35,-34100) (303.70,-33880) (304.06,-33660) (304.41,-33550) (304.76,-33330) (305.11,-33110) (305.47,-32780) (305.82,-32670) (306.17,-32450) (306.53,-32290) (306.88,-32120) (307.23,-31900) (307.58,-31790) (307.94,-31570) (308.29,-31460) (308.64,-31350) (308.99,-31120) (309.35,-31120) (309.70,-30900) (310.28,-31120) (310.65,-30570) (311.02,-30680) (311.39,-30350) (311.75,-30570) (312.12,-30240) (312.49,-30020) (312.86,-30130) (313.23,-29690) (313.60,-29910) (313.97,-29250) (314.34,-29470) (314.71,-28810) (315.08,-28920) (315.45,-28590) (315.82,-28700) (316.19,-28590) (316.56,-28480) (316.93,-28590) (317.29,-27050) (317.57,-27710) (317.85,-27380) (318.22,-27820) (318.49,-27050) (318.77,-26170) (318.96,-26720) (319.23,-26170) (319.51,-26830) (319.79,-25950) (320.06,-26500) (320.34,-26280) (320.62,-26390) (320.90,-26280) (321.17,-26720) (321.63,-26610)};
\node[lab] at (axis cs:284.38,-32900) {ΔG (α = 0.5)};
\draw[ann, lblue] (axis cs:304.23,-25950) -- (axis cs:307.85,-29580);
\node[lab, text=lblue] at (axis cs:303.09,-25550) {P8};
\draw[ann, black] (axis cs:299.65,-29250) -- (axis cs:303.0,-30130);
\node[lab] at (axis cs:298.68,-28810) {P7};
\draw[ann, lred] (axis cs:287.83,-42910) -- (axis cs:290.92,-42800);
\node[lab, text=lred] at (axis cs:286.33,-42910) {P9};
\draw[ann, lgreen] (axis cs:288.89,-45550) -- (axis cs:291.45,-43900);
\node[lab, text=lgreen] at (axis cs:287.92,-46110) {P3};
\draw[ann, black] (axis cs:320.95,-23520) -- (axis cs:320.47,-25950);
\node[lab] at (axis cs:320.9,-22530) {P1};
\draw[ann, lpink] (axis cs:325.51,-25180) -- (axis cs:323.11,-26940);
\node[lab, text=lpink] at (axis cs:326.25,-24180) {P2};
\draw[ann, lgray] (axis cs:326.81,-27820) -- (axis cs:323.48,-28700);
\node[lab, text=lgray] at (axis cs:327.82,-27380) {P4};
\draw[ann, lp5] (axis cs:334.93,-28150) -- (axis cs:332.16,-29030);
\node[lab, text=lp5] at (axis cs:335.85,-27820) {P5};
\draw[ann, black] (axis cs:337.05,-33110) -- (axis cs:336.13,-31790);
\node[lab] at (axis cs:337.42,-33880) {P6};
\end{axis}
\end{tikzpicture}
\end{document}
